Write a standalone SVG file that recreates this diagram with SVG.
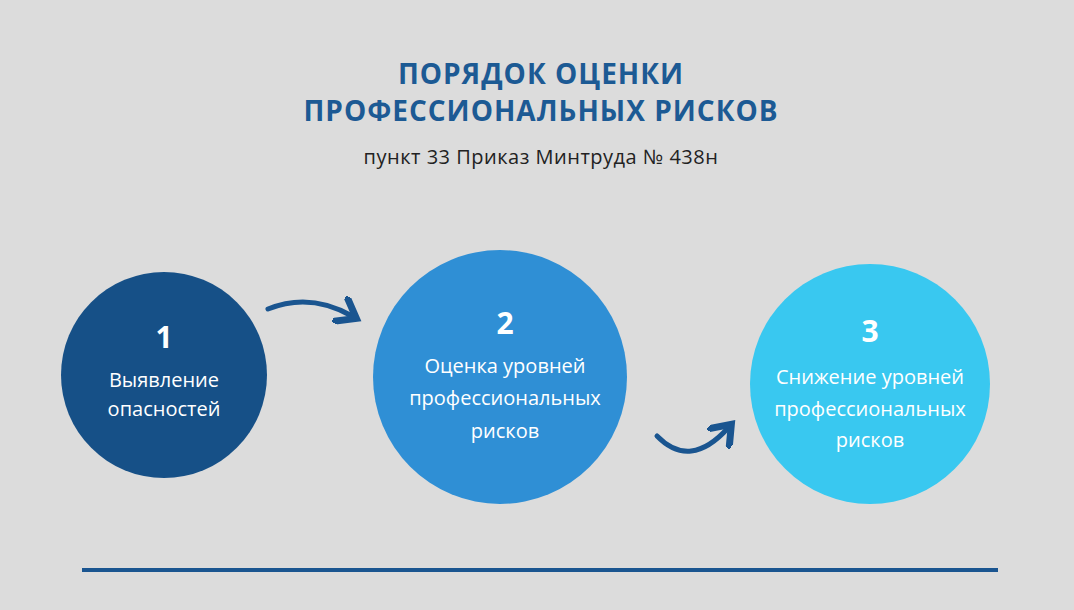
<svg xmlns="http://www.w3.org/2000/svg" width="1074" height="610" viewBox="0 0 1074 610">
<defs>
<style>
.t{font-family:"Open Sans",sans-serif;text-anchor:middle}
.w{fill:#fff;font-size:20px}
.n{fill:#fff;font-size:30px;font-weight:bold}
.a{fill:none;stroke:#1a5590;stroke-width:5;stroke-linecap:round}
</style>
<marker id="h" markerWidth="6" markerHeight="6" refX="3" refY="3" orient="auto" markerUnits="strokeWidth"><path d="M0,0 L4,3 L0,6" fill="none" stroke="#1a5590" stroke-width="1.4" stroke-linecap="round"/></marker>
</defs>
<rect width="1074" height="610" fill="#dcdcdc"/>
<text class="t" x="541" y="84" fill="#1c5a94" font-size="28" font-weight="bold" letter-spacing="1">ПОРЯДОК ОЦЕНКИ</text>
<text class="t" x="541" y="121" fill="#1c5a94" font-size="28" font-weight="bold" letter-spacing="1">ПРОФЕССИОНАЛЬНЫХ РИСКОВ</text>
<text class="t" x="541" y="164" fill="#222" font-size="20" letter-spacing="0.5">пункт 33 Приказ Минтруда № 438н</text>
<g id="n1"><circle cx="164" cy="375" r="103" fill="#165087"/>
<text class="t n" x="164" y="348">1</text>
<text class="t w" x="164" y="387">Выявление</text>
<text class="t w" x="164" y="416">опасностей</text></g>
<g id="n2"><circle cx="500" cy="377" r="127" fill="#2f8fd5"/>
<text class="t n" x="505" y="334">2</text>
<text class="t w" x="505" y="373">Оценка уровней</text>
<text class="t w" x="505" y="405">профессиональных</text>
<text class="t w" x="505" y="438">рисков</text></g>
<g id="n3"><circle cx="870" cy="384" r="120" fill="#39c8f0"/>
<text class="t n" x="870" y="342">3</text>
<text class="t w" x="870" y="384">Снижение уровней</text>
<text class="t w" x="870" y="416">профессиональных</text>
<text class="t w" x="870" y="447">рисков</text></g>
<g id="connectors">
<path class="a" d="M268,309 Q310,292 352,316" marker-end="url(#h)"/>
<path class="a" d="M657,436 Q690,470 728,428" marker-end="url(#h)"/>
</g>
<line x1="82" y1="570" x2="998" y2="570" stroke="#1a5590" stroke-width="4"/>
</svg>
